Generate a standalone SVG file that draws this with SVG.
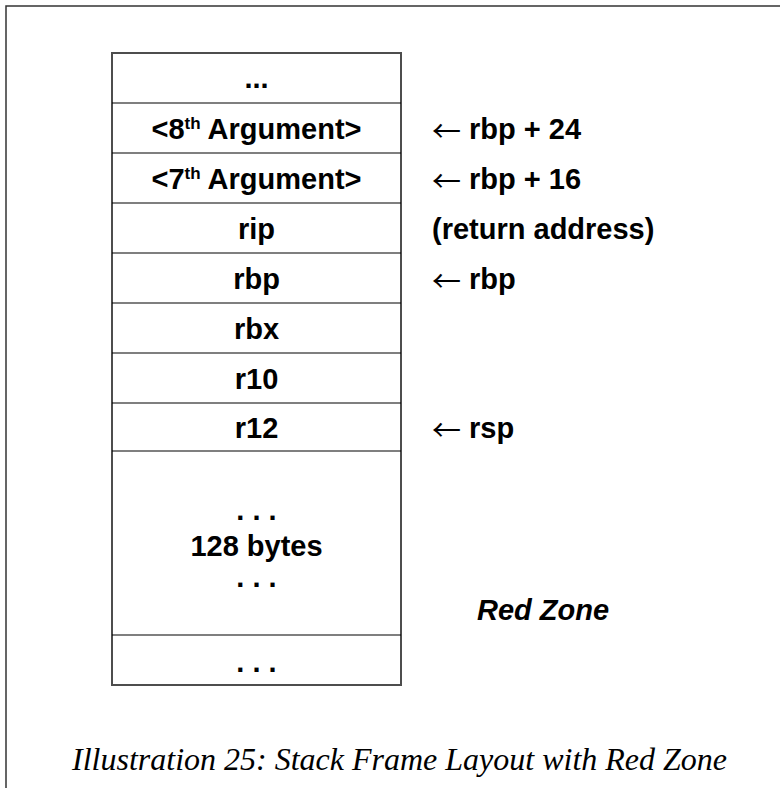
<svg xmlns="http://www.w3.org/2000/svg" width="780" height="788" viewBox="0 0 780 788">
<style>
.b{font-family:"Liberation Sans",Arial,sans-serif;font-weight:bold;font-size:29px;fill:#000}
.c{text-anchor:middle}
.sup{font-size:17px}
.arr{font-family:"Noto Sans CJK SC","Noto Sans CJK JP",sans-serif;font-weight:normal}
.row{stroke:#000;stroke-width:1.2}
.cap{font-family:"Liberation Serif","Times New Roman",serif;font-style:italic;font-size:32px;fill:#000}
</style>
<rect width="780" height="788" fill="#fff"/>
<g id="frame" fill="none" stroke="#333" stroke-width="1.5">
<path d="M6,788 V6 H780"/>
</g>
<g id="stack">
<rect x="112" y="53" width="289" height="632" fill="#fff" stroke="#4d4d4d" stroke-width="2"/>
<g id="rows" class="row">
<line x1="112" y1="103" x2="401" y2="103"/>
<line x1="112" y1="153" x2="401" y2="153"/>
<line x1="112" y1="203" x2="401" y2="203"/>
<line x1="112" y1="253" x2="401" y2="253"/>
<line x1="112" y1="303" x2="401" y2="303"/>
<line x1="112" y1="353" x2="401" y2="353"/>
<line x1="112" y1="403" x2="401" y2="403"/>
<line x1="112" y1="451" x2="401" y2="451"/>
<line x1="112" y1="635" x2="401" y2="635"/>
</g>
<g id="cell-top"><text class="b c" x="256.5" y="88">...</text></g>
<g id="cell-arg8"><text class="b c" x="256.5" y="139">&lt;8<tspan class="sup" dy="-10">th</tspan><tspan dy="10"> Argument&gt;</tspan></text></g>
<g id="cell-arg7"><text class="b c" x="256.5" y="189">&lt;7<tspan class="sup" dy="-10">th</tspan><tspan dy="10"> Argument&gt;</tspan></text></g>
<g id="cell-rip"><text class="b c" x="256.5" y="239">rip</text></g>
<g id="cell-rbp"><text class="b c" x="256.5" y="289">rbp</text></g>
<g id="cell-rbx"><text class="b c" x="256.5" y="339">rbx</text></g>
<g id="cell-r10"><text class="b c" x="256.5" y="389">r10</text></g>
<g id="cell-r12"><text class="b c" x="256.5" y="438">r12</text></g>
<g id="cell-redzone">
<text class="b c" x="256.5" y="520">. . .</text>
<text class="b c" x="256.5" y="556">128 bytes</text>
<text class="b c" x="256.5" y="587">. . .</text>
</g>
<g id="cell-bottom"><text class="b c" x="256.5" y="672">. . .</text></g>
</g>
<g id="labels">
<text class="b" x="432" y="139"><tspan class="arr" dy="3">←</tspan><tspan dy="-3"> rbp + 24</tspan></text>
<text class="b" x="432" y="189"><tspan class="arr" dy="3">←</tspan><tspan dy="-3"> rbp + 16</tspan></text>
<text class="b" x="432" y="239">(return address)</text>
<text class="b" x="432" y="289"><tspan class="arr" dy="3">←</tspan><tspan dy="-3"> rbp</tspan></text>
<text class="b" x="432" y="438"><tspan class="arr" dy="3">←</tspan><tspan dy="-3"> rsp</tspan></text>
<text class="b" x="477" y="620" font-style="italic">Red Zone</text>
</g>
<g id="caption"><text class="cap" x="72" y="770">Illustration 25: Stack Frame Layout with Red Zone</text></g>
</svg>
